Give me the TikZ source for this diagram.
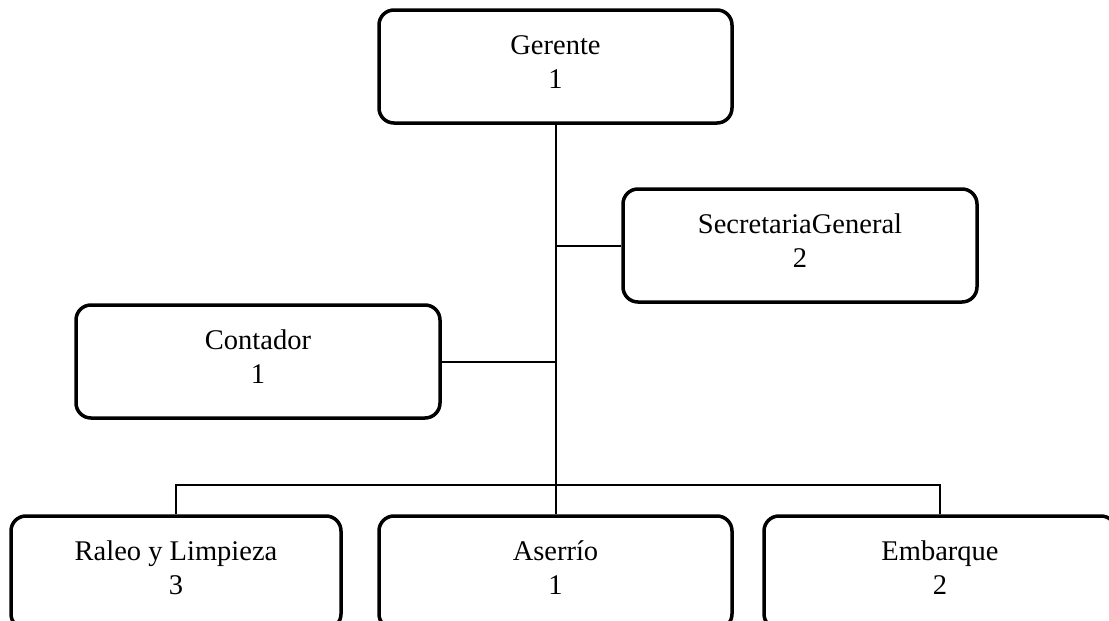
\documentclass[tikz,border=0pt]{standalone}
\usepackage{fontspec}
\setmainfont{Liberation Serif}
\begin{document}
\begin{tikzpicture}
[x=1pt,y=-1pt,line width=2pt,
caja/.style={draw,line width=3.5pt,rounded corners=15pt,minimum height=113pt,inner sep=0pt,
  align=center,text height=78.5pt,text depth=34.5pt,font=\fontsize{28.5}{34}\selectfont}]
\clip (0,0) rectangle (1109,621);
\node[caja,minimum width=353pt] (g) at (555.5,66.5) {Gerente\\1};
\node[caja,minimum width=354pt] (s) at (800,245.5) {SecretariaGeneral\\2};
\node[caja,minimum width=364pt] (c) at (258,361.5) {Contador\\1};
\node[caja,minimum width=330pt] (r) at (176,572.5) {Raleo y Limpieza\\3};
\node[caja,minimum width=353pt] (a) at (555.5,572.5) {Aserrío\\1};
\node[caja,minimum width=352pt] (e) at (940,572.5) {Embarque\\2};
\coordinate (bus) at (555.5,485);
\draw (g) -- (a);
\foreach \n in {s,c}
\draw (\n) -- (\n -| g);
\draw (r) |- (bus) -| (e);
\end{tikzpicture}
\end{document}
